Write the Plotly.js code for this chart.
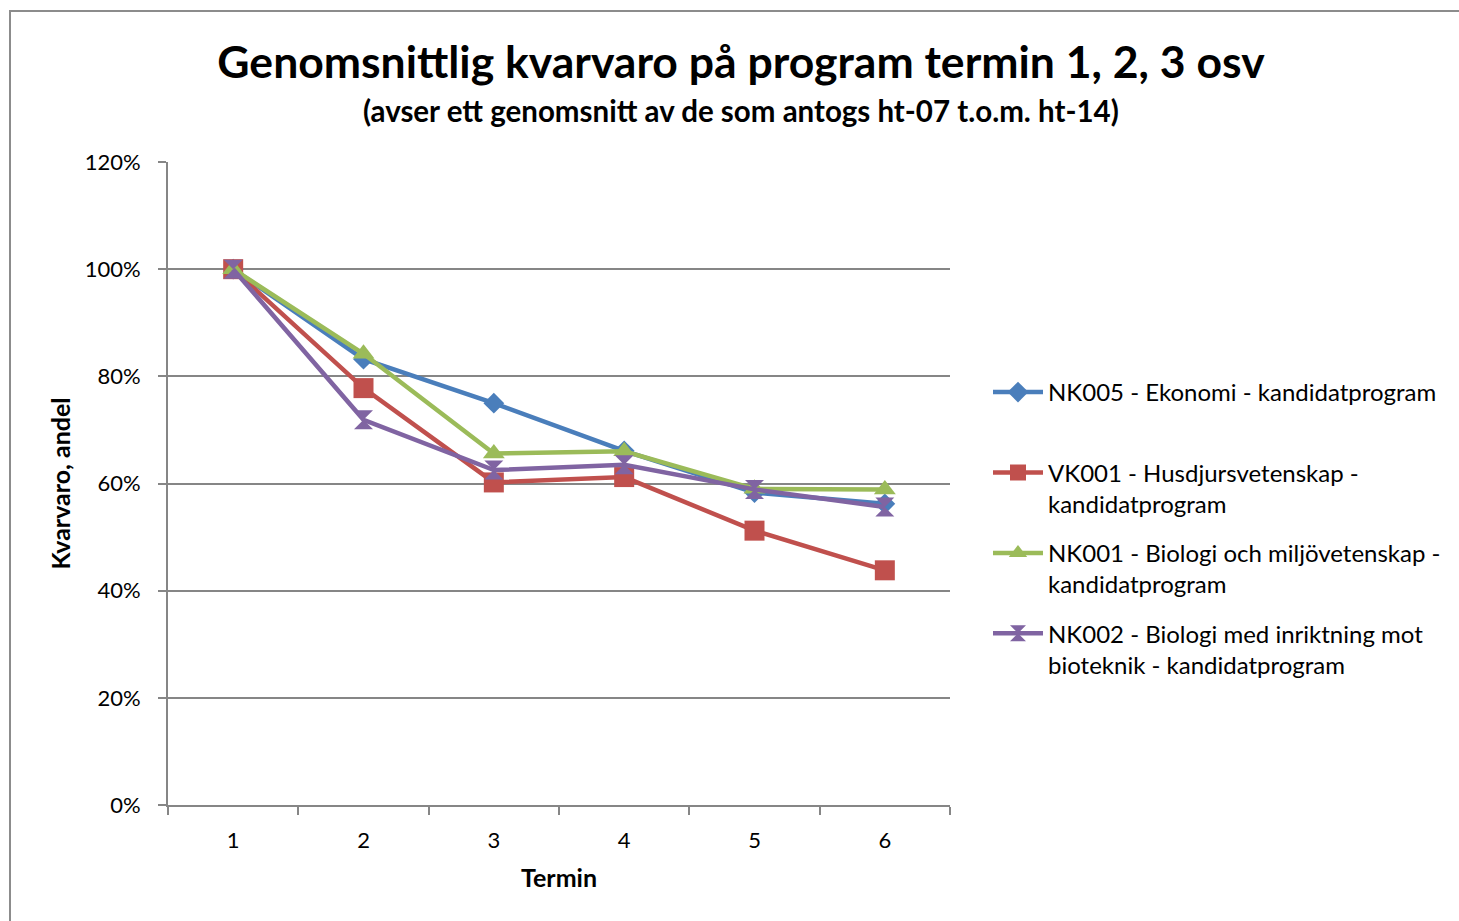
<!DOCTYPE html>
<html>
<head>
<meta charset="utf-8">
<script src="https://cdn.plot.ly/plotly-3.0.1.min.js"></script>
<style>html,body{margin:0;padding:0;background:#fff;}#chart{width:1459px;height:921px;}</style>
</head>
<body>
<div id="chart"></div>
<script>
const terms = [1, 2, 3, 4, 5, 6];
const seriesNames = [
  "NK005 - Ekonomi - kandidatprogram<br>&nbsp;",
  "VK001 - Husdjursvetenskap -<br>kandidatprogram",
  "NK001 - Biologi och miljövetenskap -<br>kandidatprogram",
  "NK002 - Biologi med inriktning mot<br>bioteknik - kandidatprogram"
];
const nk005 = [100, 83.2, 75.0, 66.1, 58.3, 56.2];
const vk001 = [100, 77.8, 60.2, 61.2, 51.2, 43.8];
const nk001 = [100, 84.2, 65.6, 66.0, 59.0, 58.9];
const nk002 = [100, 71.9, 62.5, 63.5, 58.9, 55.6];
const yTickVals = [0, 20, 40, 60, 80, 100, 120];

const colors = ["#4A7EBB", "#C0504D", "#9BBB59", "#8064A2"];
const symbols = ["diamond", "square", "triangle-up", "hourglass"];
const sizes = [16, 20, 19, 19];
const data = [nk005, vk001, nk001, nk002].map((ys, i) => ({
  type: "scatter",
  mode: "lines+markers",
  x: terms,
  y: ys,
  name: seriesNames[i],
  legendgroup: "g" + i,
  line: {color: colors[i], width: 4.5},
  marker: {symbol: symbols[i], size: sizes[i], color: colors[i], line: {width: 0}}
}));

const L = 168, R = 950, T = 162, B = 805, W = 1459, H = 921;
const px = v => (v - L) / (R - L);
const py = v => (B - v) / (B - T);
const font = "Lato, 'Open Sans', sans-serif";

const layout = {
  width: W, height: H,
  margin: {l: L, r: W - R, t: T, b: H - B, pad: 0},
  paper_bgcolor: "#ffffff",
  plot_bgcolor: "#ffffff",
  font: {family: font, color: "#000", size: 20},
  showlegend: true,
  title: {
    text: "<b>Genomsnittlig kvarvaro på program termin 1, 2, 3 osv</b>",
    font: {family: font, size: 44.5, color: "#000"},
    xref: "container", yref: "container",
    x: 741 / W, y: 1 - 62 / H, xanchor: "center", yanchor: "middle"
  },
  annotations: [{
    text: "<b>(avser ett genomsnitt av de som antogs ht-07 t.o.m. ht-14)</b>",
    xref: "paper", yref: "paper",
    x: px(741), y: py(110), xanchor: "center", yanchor: "middle",
    showarrow: false,
    font: {family: font, size: 29.5, color: "#000"}
  }],
  xaxis: {
    range: [0.5, 6.5],
    tickmode: "array",
    tickvals: terms,
    ticktext: terms.map(String),
    ticks: "",
    showgrid: false,
    zeroline: false,
    showline: true,
    linecolor: "#868686",
    linewidth: 2,
    tickfont: {family: font, size: 22, color: "#000"},
    ticklabelstandoff: 15,
    minor: {tick0: 0.5, dtick: 1, ticks: "outside", ticklen: 8, tickcolor: "#868686", tickwidth: 2, showgrid: false},
    title: {text: "<b>Termin</b>", font: {family: font, size: 25, color: "#000"}, standoff: 17}
  },
  yaxis: {
    range: [0, 120],
    tickmode: "array",
    tickvals: yTickVals,
    ticktext: yTickVals.map(v => v + "%"),
    ticks: "outside",
    ticklen: 8,
    tickcolor: "#868686",
    tickwidth: 2,
    showgrid: true,
    gridcolor: "#868686",
    gridwidth: 2,
    zeroline: false,
    showline: true,
    linecolor: "#868686",
    linewidth: 2,
    tickfont: {family: font, size: 22, color: "#000"},
    ticklabelstandoff: 13,
    title: {text: "<b>Kvarvaro, andel</b>", font: {family: font, size: 25, color: "#000"}, standoff: 7}
  },
  legend: {
    x: px(988), y: py(370), xanchor: "left", yanchor: "top",
    font: {family: font, size: 24, color: "#000"},
    itemwidth: 50,
    valign: "top",
    tracegroupgap: 15,
    bgcolor: "rgba(0,0,0,0)"
  },
  shapes: [{
    type: "rect", xref: "paper", yref: "paper",
    x0: px(10), x1: px(1480), y0: py(940), y1: py(11),
    line: {color: "#8c8c8c", width: 2}, fillcolor: "rgba(0,0,0,0)", layer: "below"
  }]
};

Plotly.newPlot("chart", data, layout, {displayModeBar: false, staticPlot: true});
</script>
</body>
</html>
